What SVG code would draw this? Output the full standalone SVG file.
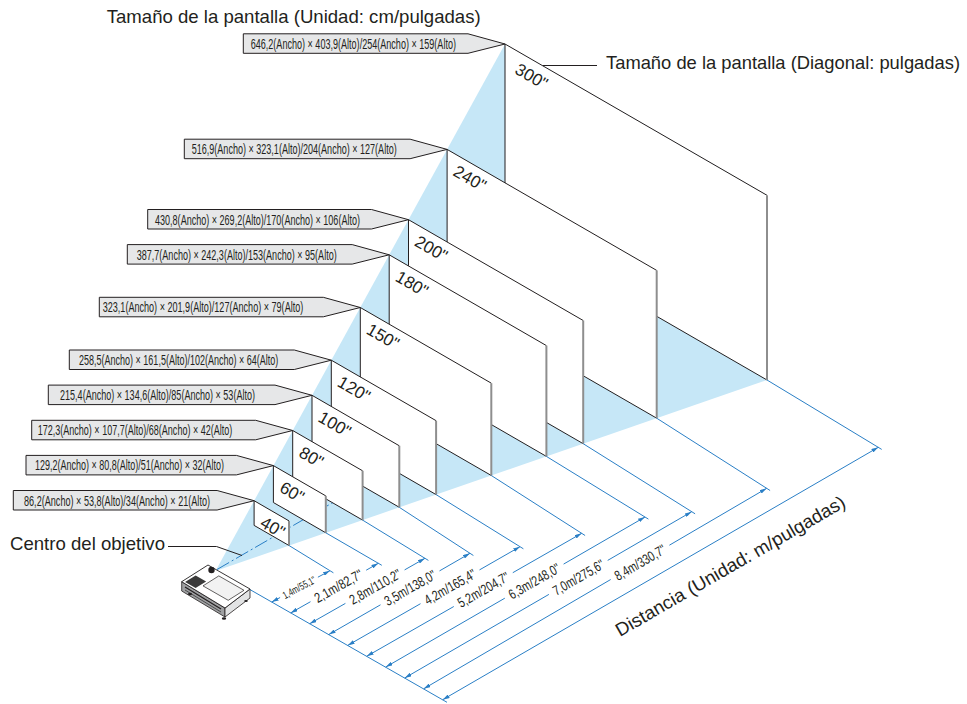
<svg xmlns="http://www.w3.org/2000/svg" width="967" height="704" viewBox="0 0 967 704">
<style>
.cone{fill:#c6e7f7;stroke:none}
.scr{fill:#fff;stroke:none}
.edge{fill:none;stroke:#231f20;stroke-width:1}
.redge{stroke:#8e8e8e;stroke-width:2}
.lbl{font-family:"Liberation Sans",Arial,sans-serif;font-size:17px;fill:#231f20}
.box{fill:#e6e7e8;stroke:#231f20;stroke-width:1}
.boxt{font-family:"Liberation Sans Narrow","Liberation Sans",Arial,sans-serif;font-size:14.5px;fill:#231f20}
.bl{stroke:#2a7fc6;stroke-width:1;fill:none}
.arr{stroke:#2a7fc6;stroke-width:1;fill:none;marker-end:url(#ah)}
.arrs{stroke:#2a7fc6;stroke-width:1;fill:none;marker-start:url(#ah)}
.dd{stroke:#2a7fc6;stroke-width:1;fill:none;stroke-dasharray:14 3 2 3}
.dist{font-family:"Liberation Sans Narrow","Liberation Sans",Arial,sans-serif;font-size:14px;fill:#231f20;text-anchor:middle}
.big{font-family:"Liberation Sans",Arial,sans-serif;font-size:18.5px;fill:#231f20}
.lead{stroke:#231f20;stroke-width:1;fill:none}
</style>
<defs>
<marker id="ah" viewBox="0 0 7 4" refX="7" refY="2" markerWidth="7" markerHeight="4" markerUnits="userSpaceOnUse" orient="auto-start-reverse"><path d="M0,0 L7,2 L0,4 z" fill="#2a7fc6"/></marker>
</defs>
<rect width="967" height="704" fill="#fff"/>

<g id="cone">
<polygon class="cone" points="215.5,571 505,44 767,195.3 767,380"/>
<line class="dd" x1="217" y1="569.5" x2="350" y2="492.7"/>
</g>

<g id="screen-300">
<polygon class="scr" points="505,44 767,195.3 767,380 505,228.7"/>
<polyline class="edge" points="767,195.3 505,44 505,228.7 767,380"/>
<line class="redge" x1="767" y1="195.3" x2="767" y2="380"/>
<text class="lbl" transform="translate(513.8,72.8) rotate(30)">300"</text>
</g>
<g id="screen-240">
<polygon class="scr" points="447.1,149.4 656.7,270.4 656.7,418.2 447.1,297.2"/>
<polyline class="edge" points="656.7,270.4 447.1,149.4 447.1,297.2 656.7,418.2"/>
<line class="redge" x1="656.7" y1="270.4" x2="656.7" y2="418.2"/>
<text class="lbl" transform="translate(452.1,174.8) rotate(30)">240"</text>
</g>
<g id="screen-200">
<polygon class="scr" points="408.5,219.7 583.2,320.5 583.2,443.7 408.5,342.8"/>
<polyline class="edge" points="583.2,320.5 408.5,219.7 408.5,342.8 583.2,443.7"/>
<line class="redge" x1="583.2" y1="320.5" x2="583.2" y2="443.7"/>
<text class="lbl" transform="translate(413.5,245.1) rotate(30)">200"</text>
</g>
<g id="screen-180">
<polygon class="scr" points="389.2,254.8 546.4,345.6 546.4,456.4 389.2,365.6"/>
<polyline class="edge" points="546.4,345.6 389.2,254.8 389.2,365.6 546.4,456.4"/>
<line class="redge" x1="546.4" y1="345.6" x2="546.4" y2="456.4"/>
<text class="lbl" transform="translate(394.2,280.2) rotate(30)">180"</text>
</g>
<g id="screen-150">
<polygon class="scr" points="360.3,307.5 491.3,383.2 491.3,475.5 360.3,399.9"/>
<polyline class="edge" points="491.3,383.2 360.3,307.5 360.3,399.9 491.3,475.5"/>
<line class="redge" x1="491.3" y1="383.2" x2="491.3" y2="475.5"/>
<text class="lbl" transform="translate(365.2,332.9) rotate(30)">150"</text>
</g>
<g id="screen-120">
<polygon class="scr" points="331.3,360.2 436.1,420.7 436.1,494.6 331.3,434.1"/>
<polyline class="edge" points="436.1,420.7 331.3,360.2 331.3,434.1 436.1,494.6"/>
<line class="redge" x1="436.1" y1="420.7" x2="436.1" y2="494.6"/>
<text class="lbl" transform="translate(336.3,385.6) rotate(30)">120"</text>
</g>
<g id="screen-100">
<polygon class="scr" points="312,395.3 399.3,445.8 399.3,507.3 312,456.9"/>
<polyline class="edge" points="399.3,445.8 312,395.3 312,456.9 399.3,507.3"/>
<line class="redge" x1="399.3" y1="445.8" x2="399.3" y2="507.3"/>
<text class="lbl" transform="translate(317,420.7) rotate(30)">100"</text>
</g>
<g id="screen-80">
<polygon class="scr" points="292.7,430.5 362.6,470.8 362.6,520.1 292.7,479.7"/>
<polyline class="edge" points="362.6,470.8 292.7,430.5 292.7,479.7 362.6,520.1"/>
<line class="redge" x1="362.6" y1="470.8" x2="362.6" y2="520.1"/>
<text class="lbl" transform="translate(297.7,455.9) rotate(30)">80"</text>
</g>
<g id="screen-60">
<polygon class="scr" points="273.4,465.6 325.8,495.9 325.8,532.8 273.4,502.5"/>
<polyline class="edge" points="325.8,495.9 273.4,465.6 273.4,502.5 325.8,532.8"/>
<line class="redge" x1="325.8" y1="495.9" x2="325.8" y2="532.8"/>
<text class="lbl" transform="translate(278.4,491) rotate(30)">60"</text>
</g>
<g id="screen-40">
<polygon class="scr" points="254.1,500.7 289,520.9 289,545.5 254.1,525.4"/>
<polyline class="edge" points="289,520.9 254.1,500.7 254.1,525.4 289,545.5"/>
<line class="redge" x1="289" y1="520.9" x2="289" y2="545.5"/>
<text class="lbl" transform="translate(259.1,526.1) rotate(30)">40"</text>
</g>

<g id="callout-300"><polygon class="box" points="243.3,33.8 468,33.8 505,44 468,53.3 243.3,53.3"/><text class="boxt" x="250.7" y="48.8" textLength="205.3" lengthAdjust="spacingAndGlyphs">646,2(Ancho) × 403,9(Alto)/254(Ancho) × 159(Alto)</text></g>
<g id="callout-240"><polygon class="box" points="184.3,139.2 410.1,139.2 447.1,149.4 410.1,158.7 184.3,158.7"/><text class="boxt" x="191.7" y="154.2" textLength="205" lengthAdjust="spacingAndGlyphs">516,9(Ancho) × 323,1(Alto)/204(Ancho) × 127(Alto)</text></g>
<g id="callout-200"><polygon class="box" points="147.7,209.5 371.5,209.5 408.5,219.7 371.5,229 147.7,229"/><text class="boxt" x="155" y="224.5" textLength="205" lengthAdjust="spacingAndGlyphs">430,8(Ancho) × 269,2(Alto)/170(Ancho) × 106(Alto)</text></g>
<g id="callout-180"><polygon class="box" points="127.3,244.6 352.2,244.6 389.2,254.8 352.2,264.1 127.3,264.1"/><text class="boxt" x="136.7" y="259.6" textLength="200" lengthAdjust="spacingAndGlyphs">387,7(Ancho) × 242,3(Alto)/153(Ancho) × 95(Alto)</text></g>
<g id="callout-150"><polygon class="box" points="99.3,297.3 323.3,297.3 360.3,307.5 323.3,316.8 99.3,316.8"/><text class="boxt" x="102.7" y="312.3" textLength="200.6" lengthAdjust="spacingAndGlyphs">323,1(Ancho) × 201,9(Alto)/127(Ancho) × 79(Alto)</text></g>
<g id="callout-120"><polygon class="box" points="69.3,350 294.3,350 331.3,360.2 294.3,369.5 69.3,369.5"/><text class="boxt" x="79" y="365" textLength="199.3" lengthAdjust="spacingAndGlyphs">258,5(Ancho) × 161,5(Alto)/102(Ancho) × 64(Alto)</text></g>
<g id="callout-100"><polygon class="box" points="48.3,385.1 275,385.1 312,395.3 275,404.6 48.3,404.6"/><text class="boxt" x="60" y="400.1" textLength="195" lengthAdjust="spacingAndGlyphs">215,4(Ancho) × 134,6(Alto)/85(Ancho) × 53(Alto)</text></g>
<g id="callout-80"><polygon class="box" points="31.7,420.3 255.7,420.3 292.7,430.5 255.7,439.8 31.7,439.8"/><text class="boxt" x="37.7" y="435.3" textLength="194.6" lengthAdjust="spacingAndGlyphs">172,3(Ancho) × 107,7(Alto)/68(Ancho) × 42(Alto)</text></g>
<g id="callout-60"><polygon class="box" points="26,455.4 236.4,455.4 273.4,465.6 236.4,474.9 26,474.9"/><text class="boxt" x="35" y="470.4" textLength="189" lengthAdjust="spacingAndGlyphs">129,2(Ancho) × 80,8(Alto)/51(Ancho) × 32(Alto)</text></g>
<g id="callout-40"><polygon class="box" points="13.3,490.5 217.1,490.5 254.1,500.7 217.1,510 13.3,510"/><text class="boxt" x="24" y="505.5" textLength="186" lengthAdjust="spacingAndGlyphs">86,2(Ancho) × 53,8(Alto)/34(Ancho) × 21(Alto)</text></g>

<g id="connectors">
<line class="bl" x1="250" y1="589.6" x2="447" y2="702.3"/>
<line class="bl" x1="289" y1="545.5" x2="333.4" y2="572.8"/>
<line class="bl" x1="325.8" y1="532.8" x2="381.8" y2="565.3"/>
<line class="bl" x1="362.6" y1="520.1" x2="428.4" y2="560.4"/>
<line class="bl" x1="399.3" y1="507.3" x2="473.4" y2="555.5"/>
<line class="bl" x1="436.1" y1="494.6" x2="523.4" y2="548.8"/>
<line class="bl" x1="491.3" y1="475.5" x2="585.1" y2="535.5"/>
<line class="bl" x1="546.4" y1="456.4" x2="648.4" y2="519.1"/>
<line class="bl" x1="583.2" y1="443.7" x2="695.1" y2="513.8"/>
<line class="bl" x1="656.7" y1="418.2" x2="770.1" y2="490.5"/>
<line class="bl" x1="767" y1="380" x2="881.7" y2="449.4"/>

<line class="arrs" x1="271.7" y1="602" x2="280.1" y2="597.5"/><line class="arr" x1="317.9" y1="577.2" x2="330" y2="570.7"/>
<line class="arrs" x1="290.7" y1="612.9" x2="310.5" y2="601.7"/><line class="arr" x1="366.2" y1="570.2" x2="378.3" y2="563.3"/>
<line class="arrs" x1="309.7" y1="623.7" x2="345.4" y2="603.4"/><line class="arr" x1="404.6" y1="569.9" x2="425" y2="558.3"/>
<line class="arrs" x1="328.7" y1="634.6" x2="380.5" y2="604.8"/><line class="arr" x1="439.5" y1="570.9" x2="470" y2="553.3"/>
<line class="arrs" x1="347.7" y1="645.4" x2="420.5" y2="603.7"/><line class="arr" x1="479.5" y1="569.9" x2="520" y2="546.7"/>
<line class="arrs" x1="366.7" y1="656.3" x2="453.8" y2="606.5"/><line class="arr" x1="512.8" y1="572.7" x2="581.7" y2="533.3"/>
<line class="arrs" x1="385.7" y1="667.1" x2="504.8" y2="598.2"/><line class="arr" x1="563.6" y1="564.1" x2="645" y2="517"/>
<line class="arrs" x1="404.7" y1="678" x2="548.9" y2="594.4"/><line class="arr" x1="607.7" y1="560.4" x2="691.7" y2="511.7"/>
<line class="arrs" x1="423.7" y1="688.8" x2="610.7" y2="579.5"/><line class="arr" x1="669.4" y1="545.2" x2="766.7" y2="488.3"/>
<line class="arr" style="marker-start:url(#ah)" x1="442.7" y1="699.7" x2="878.3" y2="447.3"/>

<text class="dist" style="font-size:10.5px" transform="translate(299,587.3) rotate(-28.2)" y="3.8" textLength="36" lengthAdjust="spacingAndGlyphs">1,4m/55,1"</text>
<text class="dist" transform="translate(338.3,585.9) rotate(-29.5)" y="5" textLength="53" lengthAdjust="spacingAndGlyphs">2,1m/82,7"</text>
<text class="dist" transform="translate(375,586.7) rotate(-29.6)" y="5" textLength="57" lengthAdjust="spacingAndGlyphs">2,8m/110,2"</text>
<text class="dist" transform="translate(410,587.8) rotate(-29.9)" y="5" textLength="57" lengthAdjust="spacingAndGlyphs">3,5m/138,0"</text>
<text class="dist" transform="translate(450,586.8) rotate(-29.8)" y="5" textLength="57" lengthAdjust="spacingAndGlyphs">4,2m/165,4"</text>
<text class="dist" transform="translate(483.3,589.6) rotate(-29.8)" y="5" textLength="57" lengthAdjust="spacingAndGlyphs">5,2m/204,7"</text>
<text class="dist" transform="translate(534.2,581.1) rotate(-30.1)" y="5" textLength="57" lengthAdjust="spacingAndGlyphs">6,3m/248,0"</text>
<text class="dist" transform="translate(578.3,577.4) rotate(-30.1)" y="5" textLength="57" lengthAdjust="spacingAndGlyphs">7,0m/275,6"</text>
<text class="dist" transform="translate(640,562.4) rotate(-30.3)" y="5" textLength="57" lengthAdjust="spacingAndGlyphs">8,4m/330,7"</text>
</g>

<g id="projector">
<polygon points="181.7,581.7 225,608 225,617 181.7,591" fill="#9fa0a2" stroke="#231f20" stroke-width="0.8"/>
<polygon points="225,608 250,589 250,598 225,617" fill="#e2e3e4" stroke="#231f20" stroke-width="0.8"/>
<line x1="185" y1="587" x2="221" y2="609" stroke="#231f20" stroke-width="1.2"/>
<line x1="185" y1="590" x2="221" y2="612" stroke="#333" stroke-width="0.8"/>
<rect x="188" y="584" width="10" height="3" fill="#231f20" transform="rotate(31 193 585)"/>
<polygon points="181.7,581.7 208,565 250,589 225,608" fill="#fff" stroke="#231f20" stroke-width="0.9" stroke-linejoin="round"/>
<polygon points="218.8,575.9 244,590.3 228.2,600.3 203,585.9" fill="#f2f2f2" stroke="#231f20" stroke-width="0.7"/>
<polygon points="195.6,575.4 206.1,581.4 195.6,588.1 185.1,582.1" fill="#3a3a3a"/>
<circle cx="211.5" cy="570" r="3.2" fill="#231f20"/>
<ellipse cx="224" cy="618.5" rx="2.2" ry="1.3" fill="#231f20"/>
<ellipse cx="190" cy="594" rx="2" ry="1.2" fill="#231f20"/>
<ellipse cx="246" cy="601" rx="1.8" ry="1.1" fill="#231f20"/>
</g>

<g id="title-screen-size"><text class="big" x="106.7" y="22.7" textLength="374" lengthAdjust="spacingAndGlyphs">Tamaño de la pantalla (Unidad: cm/pulgadas)</text></g>
<g id="label-diagonal">
<line class="lead" x1="543" y1="65.5" x2="597" y2="65.5"/>
<text class="big" x="606" y="69.3" textLength="354" lengthAdjust="spacingAndGlyphs">Tamaño de la pantalla (Diagonal: pulgadas)</text>
</g>
<g id="label-lens">
<text class="big" x="10" y="550" textLength="155" lengthAdjust="spacingAndGlyphs">Centro del objetivo</text>
<polyline class="lead" points="168,546.5 216.5,546.5 242,555.5"/>
</g>
<g id="label-distance"><text class="big" transform="translate(620,637) rotate(-30)" textLength="262" lengthAdjust="spacingAndGlyphs">Distancia (Unidad: m/pulgadas)</text></g>
</svg>
